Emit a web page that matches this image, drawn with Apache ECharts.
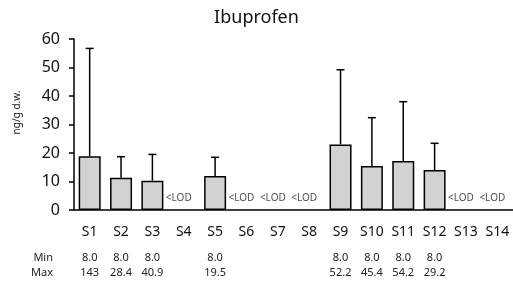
<!DOCTYPE html>
<html>
<head>
    <meta charset="utf-8">
    <title>Ibuprofen</title>
    <script src="https://cdn.jsdelivr.net/npm/echarts@6/dist/echarts.min.js"></script>
    <style>
        html, body { margin: 0; padding: 0; background: #fff; }
        #chart { width: 513px; height: 285px; }
    </style>
</head>
<body>
<div id="chart"></div>
<script>
    // data
    var sites = ['S1', 'S2', 'S3', 'S4', 'S5', 'S6', 'S7', 'S8', 'S9', 'S10', 'S11', 'S12', 'S13', 'S14'];
    var means = [18.9, 11.3, 10.3, null, 11.9, null, null, null, 23.0, 15.4, 17.2, 14.0, null, null];
    var upper = [56.7, 18.7, 19.5, null, 18.5, null, null, null, 49.2, 32.4, 38.0, 23.4, null, null];
    var minVals = ['8.0', '8.0', '8.0', '', '8.0', '', '', '', '8.0', '8.0', '8.0', '8.0', '', ''];
    var maxVals = ['143', '28.4', '40.9', '', '19.5', '', '', '', '52.2', '45.4', '54.2', '29.2', '', ''];
    var yTicks = [0, 10, 20, 30, 40, 50, 60];

    var font = '"Noto Sans", "Open Sans", sans-serif';

    var errData = [];
    var lodData = [];
    for (var i = 0; i < sites.length; i++) {
        if (means[i] == null) {
            lodData.push([i, 0]);
        } else {
            errData.push([i, means[i], upper[i]]);
        }
    }

    function tableAxis(vals, name, offset) {
        return {
            type: 'category',
            data: vals,
            position: 'bottom',
            offset: offset,
            name: name,
            nameLocation: 'start',
            nameGap: 21,
            nameTextStyle: {fontFamily: font, fontSize: 11, color: '#222', verticalAlign: 'middle'},
            axisLine: {show: false},
            axisTick: {show: false},
            axisLabel: {interval: 0, margin: 0, verticalAlign: 'middle', fontFamily: font, fontSize: 11, color: '#222'}
        };
    }

    var chart = echarts.init(document.getElementById('chart'));
    chart.setOption({
        animation: false,
        title: {
            text: 'Ibuprofen',
            left: 'center',
            top: 4,
            textStyle: {fontFamily: font, fontSize: 18, fontWeight: 'normal', color: '#111'}
        },
        grid: {left: 74, top: 39, width: 444, bottom: 75},
        xAxis: [
            {
                type: 'category',
                data: sites,
                axisLine: {lineStyle: {color: '#000', width: 1.5}},
                axisTick: {show: false},
                axisLabel: {interval: 0, margin: 15, fontFamily: font, fontSize: 14, color: '#111'}
            },
            tableAxis(minVals, 'Min', 48),
            tableAxis(maxVals, 'Max', 63)
        ],
        yAxis: {
            type: 'value',
            min: yTicks[0],
            max: yTicks[yTicks.length - 1],
            interval: 10,
            name: 'ng/g d.w.',
            nameLocation: 'middle',
            nameGap: 52,
            nameTextStyle: {fontFamily: font, fontSize: 10, color: '#222', padding: [0, 0, 0, 24]},
            axisLine: {show: true, lineStyle: {color: '#000', width: 1.5}},
            axisTick: {show: true, length: 5, lineStyle: {color: '#000', width: 1.5}},
            splitLine: {show: false},
            axisLabel: {margin: 14, fontFamily: font, fontSize: 16, color: '#111'}
        },
        series: [
            {
                type: 'bar',
                data: means,
                barWidth: 22,
                itemStyle: {color: '#d2d2d2', borderColor: '#000', borderWidth: 1.5}
            },
            {
                type: 'custom',
                data: errData,
                z: 3,
                renderItem: function (params, api) {
                    var x = api.value(0);
                    var base = api.coord([x, api.value(1)]);
                    var top = api.coord([x, api.value(2)]);
                    var style = {stroke: '#000', lineWidth: 1.5};
                    return {
                        type: 'group',
                        children: [
                            {type: 'line', shape: {x1: base[0], y1: base[1], x2: top[0], y2: top[1]}, style: style},
                            {type: 'line', shape: {x1: top[0] - 4, y1: top[1], x2: top[0] + 4, y2: top[1]}, style: style}
                        ]
                    };
                }
            },
            {
                type: 'scatter',
                data: lodData,
                symbolSize: 0,
                label: {
                    show: true,
                    position: 'top',
                    distance: 7,
                    offset: [-5, 0],
                    formatter: '<LOD',
                    fontFamily: font,
                    fontSize: 10,
                    color: '#222'
                }
            }
        ]
    });
</script>
</body>
</html>
